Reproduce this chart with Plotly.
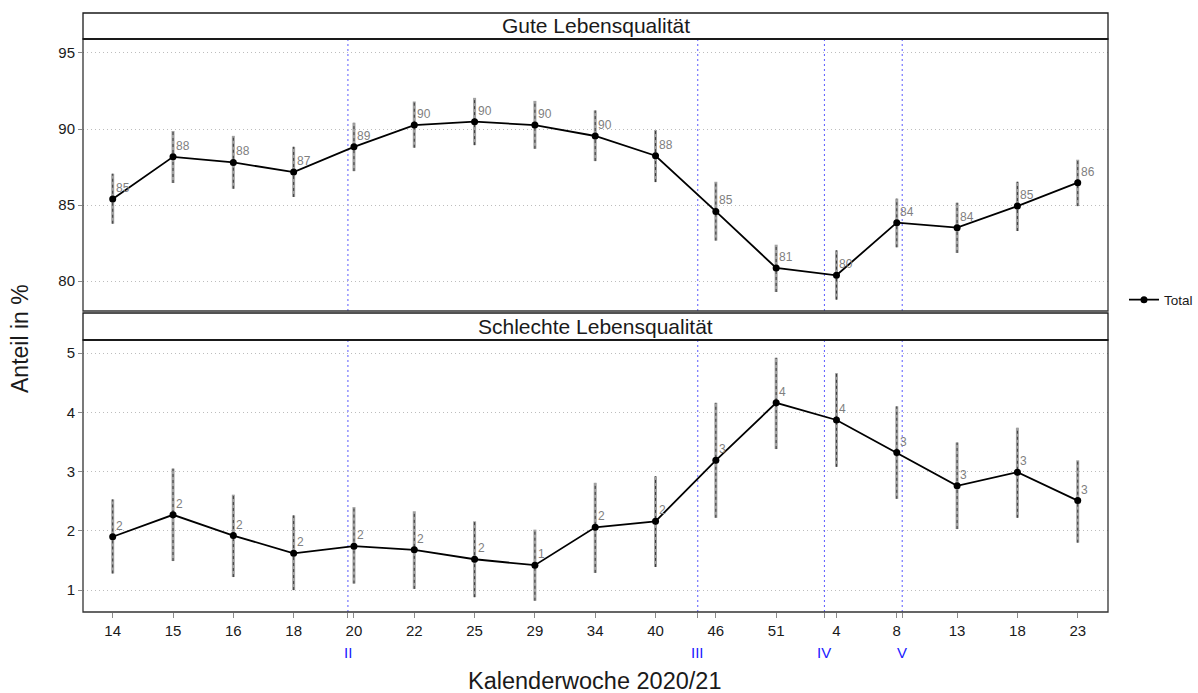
import plotly.graph_objects as go

# ---------------- data ----------------
weeks = ["14", "15", "16", "18", "20", "22", "25", "29", "34", "40", "46", "51", "4", "8", "13", "18", "23"]

good_val = [85.39, 88.17, 87.80, 87.17, 88.83, 90.26, 90.48, 90.26, 89.54, 88.24, 84.58, 80.86, 80.38, 83.84, 83.51, 84.93, 86.47]
good_lo = [83.77, 86.45, 86.07, 85.53, 87.23, 88.77, 88.94, 88.70, 87.89, 86.51, 82.66, 79.28, 78.78, 82.22, 81.85, 83.29, 84.93]
good_hi = [87.06, 89.87, 89.55, 88.83, 90.41, 91.81, 92.05, 91.85, 91.22, 89.93, 86.53, 82.39, 82.02, 85.42, 85.15, 86.53, 87.98]

bad_val = [1.90, 2.27, 1.92, 1.62, 1.74, 1.68, 1.52, 1.42, 2.06, 2.16, 3.19, 4.16, 3.87, 3.32, 2.76, 2.99, 2.51]
bad_lo = [1.28, 1.49, 1.22, 1.00, 1.11, 1.02, 0.88, 0.82, 1.29, 1.39, 2.22, 3.38, 3.08, 2.54, 2.03, 2.22, 1.80]
bad_hi = [2.53, 3.05, 2.61, 2.26, 2.40, 2.33, 2.16, 2.02, 2.81, 2.92, 4.16, 4.92, 4.66, 4.10, 3.49, 3.74, 3.19]

wave_pos = [3.90, 9.70, 11.80, 13.09]
wave_labels = ["II", "III", "IV", "V"]

panel_titles = ["Gute Lebensqualität", "Schlechte Lebensqualität"]
y_ticks_top = [80, 85, 90, 95]
y_ticks_bot = [1, 2, 3, 4, 5]

# ---------------- figure ----------------
FONT = "Liberation Sans, Arial, sans-serif"
xs = list(range(len(weeks)))

fig = go.Figure()


def add_panel(vals, lo, hi, xax, yax, legend):
    ex, ey = [], []
    for i, (l, h) in enumerate(zip(lo, hi)):
        ex += [i, i, None]
        ey += [l, h, None]
    fig.add_trace(go.Scatter(x=ex, y=ey, mode="lines", xaxis=xax, yaxis=yax,
                             line=dict(color="#a0a0a0", width=3), showlegend=False, hoverinfo="skip"))
    fig.add_trace(go.Scatter(x=ex, y=ey, mode="lines", xaxis=xax, yaxis=yax,
                             line=dict(color="#3a3a3a", width=1, dash="3px,3px"), showlegend=False,
                             hoverinfo="skip"))
    fig.add_trace(go.Scatter(x=xs, y=vals, mode="lines+markers", xaxis=xax, yaxis=yax,
                             name="Total", line=dict(color="black", width=1.8),
                             marker=dict(color="black", size=7), showlegend=legend))
    for i, v in enumerate(vals):
        fig.add_annotation(x=i, y=v, xref=xax, yref=yax, text=str(int(round(v + 1e-9))),
                           showarrow=False, xanchor="left", yanchor="bottom", xshift=1, yshift=2,
                           font=dict(family=FONT, size=12, color="#7f7f7f"))


add_panel(good_val, good_lo, good_hi, "x2", "y2", True)
add_panel(bad_val, bad_lo, bad_hi, "x", "y", False)

# geometry (paper coordinates)
top_dom = [0.5025, 0.9566]
bot_dom = [0.0, 0.4541]
strip_top = [0.9566, 1.0]
strip_bot = [0.4541, 0.4992]

xr = [-0.4925, 16.502]
grid = dict(showgrid=True, gridcolor="#bdbdbd", griddash="1px,3px", gridwidth=1)
TICKF = dict(size=15, color="#1a1a1a")

fig.update_layout(
    width=1198, height=693,
    margin=dict(l=83, r=90, t=13, b=81, autoexpand=False),
    paper_bgcolor="white", plot_bgcolor="white",
    font=dict(family=FONT, color="#333333"),
    xaxis=dict(domain=[0, 1], range=xr, anchor="y", tickmode="array", tickvals=xs + wave_pos,
               ticktext=weeks + [""] * len(wave_pos),
               showgrid=False, zeroline=False, ticks="outside", ticklen=5, tickcolor="#8a8a8a",
               tickfont=TICKF, showline=False),
    xaxis2=dict(domain=[0, 1], range=xr, anchor="y2", matches="x", showticklabels=False,
                showgrid=False, zeroline=False, ticks="", showline=False),
    yaxis=dict(domain=bot_dom, range=[0.63, 5.22], tickvals=y_ticks_bot, zeroline=False,
               ticks="outside", ticklen=4, tickcolor="#8a8a8a", tickfont=TICKF, **grid),
    yaxis2=dict(domain=top_dom, range=[78.03, 95.92], tickvals=y_ticks_top, zeroline=False,
                ticks="outside", ticklen=4, tickcolor="#8a8a8a", tickfont=TICKF, **grid),
    legend=dict(x=1.0156, y=0.521, xanchor="left", yanchor="middle", font=dict(size=13.5, color="#1a1a1a"),
                bgcolor="rgba(0,0,0,0)"),
    showlegend=True,
)

# panel borders
for dom in (top_dom, bot_dom):
    fig.add_shape(type="rect", xref="paper", yref="paper", x0=0, x1=1, y0=dom[0], y1=dom[1],
                  line=dict(color="#333333", width=1.3), fillcolor="rgba(0,0,0,0)", layer="above")

# strips
for s, title in zip((strip_top, strip_bot), panel_titles):
    fig.add_shape(type="rect", xref="paper", yref="paper", x0=0, x1=1, y0=s[0], y1=s[1],
                  line=dict(color="#1a1a1a", width=1.3), fillcolor="white")
    fig.add_shape(type="line", xref="paper", yref="paper", x0=0, x1=1, y0=s[0], y1=s[0],
                  line=dict(color="#1a1a1a", width=2.2))
    fig.add_annotation(x=0.5, y=(s[0] + s[1]) / 2, xref="paper", yref="paper", text=title,
                       showarrow=False, xanchor="center", yanchor="middle",
                       font=dict(family=FONT, size=21, color="#1a1a1a"))

# wave lines
for p, lab in zip(wave_pos, wave_labels):
    for yd in ("y domain", "y2 domain"):
        fig.add_shape(type="line", xref="x", yref=yd, x0=p, x1=p, y0=0, y1=1,
                      line=dict(color="#5a5aff", width=1, dash="2px,3px"), layer="below")
    fig.add_annotation(x=p, y=-0.0668, xref="x", yref="paper", text=lab, showarrow=False,
                       xanchor="center", yanchor="middle", font=dict(family=FONT, size=15, color="#2020ff"))

# axis titles
fig.add_annotation(x=0.4995, y=-0.1152, xref="paper", yref="paper", text="Kalenderwoche 2020/21",
                   showarrow=False, xanchor="center", yanchor="middle",
                   font=dict(family=FONT, size=23.5, color="#1a1a1a"))
fig.add_annotation(x=-0.0615, y=0.4574, xref="paper", yref="paper", text="Anteil in %", textangle=-90,
                   showarrow=False, xanchor="center", yanchor="middle",
                   font=dict(family=FONT, size=23, color="#1a1a1a"))

fig.write_html("out.html")
